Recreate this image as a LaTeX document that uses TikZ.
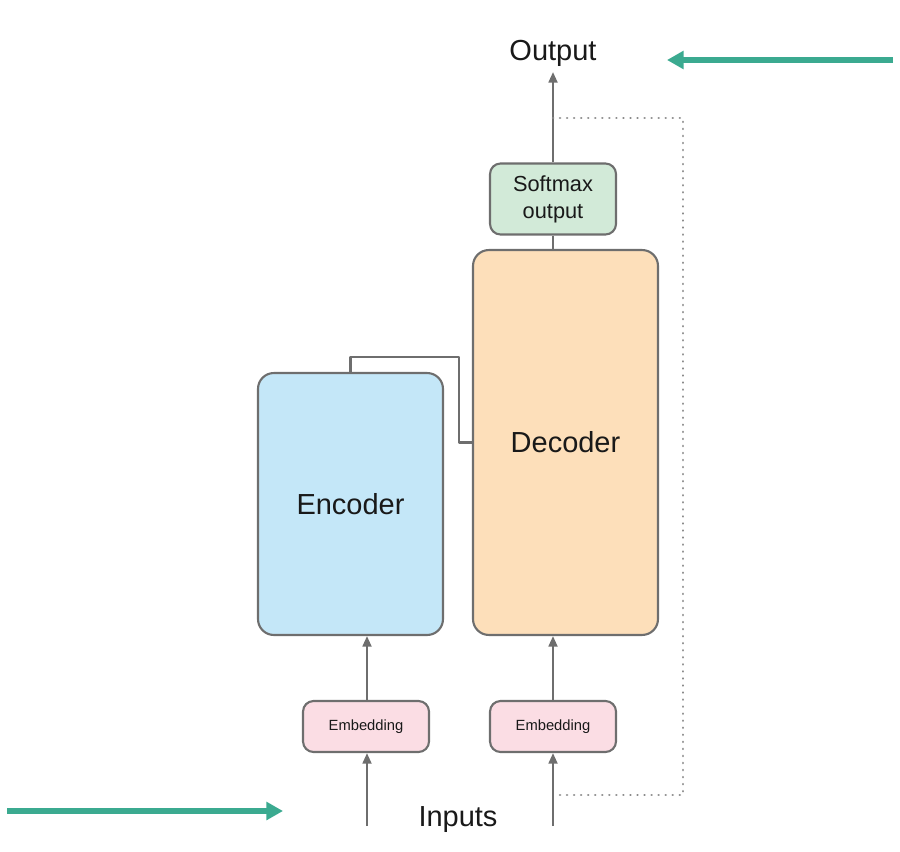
\documentclass[tikz,border=0pt]{standalone}
\usepackage{fontspec}
\setmainfont{Liberation Sans}
\usetikzlibrary{arrows.meta}
\definecolor{encfill}{HTML}{C4E7F8}
\definecolor{decfill}{HTML}{FDDFBA}
\definecolor{smfill}{HTML}{D2EAD8}
\definecolor{embfill}{HTML}{FBDDE4}
\definecolor{edge}{HTML}{6E6E6E}
\definecolor{teal}{HTML}{3BAA90}
\tikzset{
  block/.style={draw=edge,line width=1.2pt,rounded corners=6pt,inner sep=0pt,align=center,text=black!90},
  flow/.style={draw=edge,line width=1.3pt,-{Triangle[length=6pt,width=5pt]}},
  link/.style={draw=edge,line width=1.3pt},
  feedback/.style={draw=edge!80,line width=1.5pt,dash pattern=on 0.01pt off 4pt,line cap=round},
  pointer/.style={draw=teal,line width=3.2pt,-{Triangle[length=9.5pt,width=10pt]}}
}
\begin{document}
\begin{tikzpicture}[x=0.02cm,y=-0.02cm,line join=round,font=\fontsize{16.5}{19}\selectfont]
	\useasboundingbox (0,0) rectangle (900,852);
	\path
	(367,826) coordinate (ein)
	(553,826) coordinate (din)
	(459,357) coordinate (bend)
	(553,118) coordinate (fbtop)
	(683,456) coordinate (fbright)
	(553,795) coordinate (fbbot)
	(7,811) coordinate (pa)
	(283,811) coordinate (pb)
	(893,60) coordinate (pc)
	(667,60) coordinate (pd)
	;
	% boxes
	\node[block,fill=encfill,minimum width=3.7cm,minimum height=5.24cm,rounded corners=9pt] (enc) at (350.5,504) {Encoder};
	\node[block,fill=decfill,minimum width=3.7cm,minimum height=7.7cm,rounded corners=9pt] (dec) at (565.5,442.5) {Decoder};
	\node[block,fill=smfill,minimum width=2.52cm,minimum height=1.42cm,font=\fontsize{12.4}{15.5}\selectfont] (sm) at (553,199) {Softmax\\output};
	\node[block,fill=embfill,minimum width=2.52cm,minimum height=1.02cm,font=\fontsize{8.4}{10}\selectfont] (eemb) at (366,726.5) {Embedding};
	\node[block,fill=embfill,minimum width=2.52cm,minimum height=1.02cm,font=\fontsize{8.4}{10}\selectfont] (demb) at (553,726.5) {Embedding};
	\node[text=black!90] (out) at (553,53) {Output};
	\node[text=black!90] (in) at (458,820) {Inputs};
	% connectors
	\draw[flow] (ein) -- (ein |- eemb.south);
	\draw[flow] (din) -- (din |- demb.south);
	\draw[flow] (ein |- eemb.north) -- (ein |- enc.south);
	\draw[flow] (din |- demb.north) -- (din |- dec.south);
	\draw[link] (sm.south) -- (sm.south |- dec.north);
	\draw[flow] (sm.north) -- (sm.north |- 0,72);
	\draw[link] (enc.north) |- (bend) |- (dec.west);
	\draw[feedback] (fbtop) -| (fbright) |- (fbbot);
	% pointers
	\draw[pointer] (pa) -- (pb);
	\draw[pointer] (pc) -- (pd);
\end{tikzpicture}
\end{document}
